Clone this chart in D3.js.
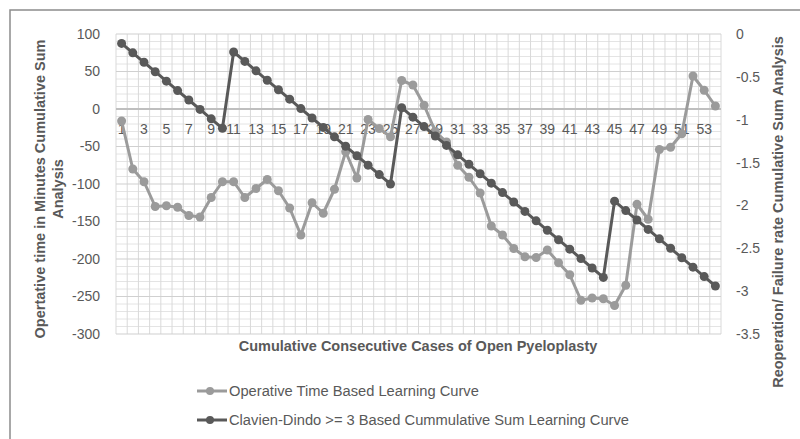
<!DOCTYPE html>
<html>
<head>
<meta charset="utf-8">
<script src="https://cdn.jsdelivr.net/npm/d3@7"></script>
<style>
  body { margin: 0; background: #fff; }
  svg { display: block; font-family: "Liberation Sans", Arial, sans-serif; }
</style>
</head>
<body>
<svg id="chart" width="800" height="439"></svg>
<script>
// cases 1..54
var cases = d3.range(1, 55);
var xTickLabels = cases.filter(function(d) { return d % 2 == 1; });

// operative time cusum (left axis, minutes)
var operativeTime = [
  -16, -80, -97, -130, -129, -131, -142, -144, -118, -97,
  -97, -118, -106, -94, -109, -132, -168, -125, -139, -107,
  -57, -92, -14, -26, -37, 38, 32, 5, -30, -44,
  -75, -91, -112, -156, -168, -186, -197, -198, -188, -205,
  -221, -255, -252, -253, -262, -235, -127, -147, -54, -51,
  -33, 44, 25, 4
];

// clavien-dindo >= 3 cusum (right axis)
var clavienDindo = [
  -0.11, -0.22, -0.33, -0.44, -0.55, -0.66, -0.77, -0.88, -0.99, -1.10,
  -0.21, -0.32, -0.43, -0.54, -0.65, -0.76, -0.87, -0.98, -1.09, -1.20,
  -1.31, -1.42, -1.53, -1.64, -1.75, -0.86, -0.97, -1.08, -1.19, -1.30,
  -1.41, -1.52, -1.63, -1.74, -1.85, -1.96, -2.07, -2.18, -2.29, -2.40,
  -2.51, -2.62, -2.73, -2.84, -1.95, -2.06, -2.17, -2.28, -2.39, -2.50,
  -2.61, -2.72, -2.83, -2.94
];

var leftTicks = [100, 50, 0, -50, -100, -150, -200, -250, -300];
var rightTicks = [0, -0.5, -1, -1.5, -2, -2.5, -3, -3.5];

var seriesNames = [
  "Operative Time Based Learning Curve",
  "Clavien-Dindo >= 3 Based Cummulative Sum Learning Curve"
];

var lightGray = "#9b9b9b", darkGray = "#595959", textCol = "#595959";

var svg = d3.select("#chart");

// outer chart border
svg.append("rect")
  .attr("x", 10).attr("y", 10).attr("width", 800).attr("height", 440)
  .attr("fill", "none").attr("stroke", "#8c8c8c").attr("stroke-width", 1.5);

var x = d3.scaleBand().domain(cases).range([116, 721]).padding(0);
var yL = d3.scaleLinear().domain([-300, 100]).range([334, 34]);
var yR = d3.scaleLinear().domain([-3.5, 0]).range([334, 34]);
var cx = function(d) { return x(d) + x.bandwidth() / 2; };

var grid = svg.append("g");

// minor horizontal grid every 10
grid.selectAll("line.minor")
  .data(d3.range(-300, 101, 10).filter(function(v) { return v % 50 != 0; }))
  .enter().append("line")
  .attr("x1", 116).attr("x2", 721)
  .attr("y1", function(d) { return yL(d); }).attr("y2", function(d) { return yL(d); })
  .attr("stroke", "#e4e4e4").attr("stroke-width", 1);

// vertical grid at category boundaries
grid.selectAll("line.vert")
  .data(cases.concat([55]))
  .enter().append("line")
  .attr("x1", function(d) { return d == 55 ? 721 : x(d); })
  .attr("x2", function(d) { return d == 55 ? 721 : x(d); })
  .attr("y1", 34).attr("y2", 334)
  .attr("stroke", "#d9d9d9").attr("stroke-width", 1);

// major horizontal grid
grid.selectAll("line.major")
  .data(leftTicks.filter(function(v) { return v != 0; }))
  .enter().append("line")
  .attr("x1", 116).attr("x2", 721)
  .attr("y1", function(d) { return yL(d); }).attr("y2", function(d) { return yL(d); })
  .attr("stroke", "#d0d0d0").attr("stroke-width", 1.2);

// zero / category axis line
svg.append("line")
  .attr("x1", 116).attr("x2", 721)
  .attr("y1", yL(0)).attr("y2", yL(0))
  .attr("stroke", "#bfbfbf").attr("stroke-width", 2);

// axes
var gLeft = svg.append("g").attr("transform", "translate(116,0)")
  .call(d3.axisLeft(yL).tickValues(leftTicks).tickSize(0).tickPadding(16)
    .tickFormat(function(d) { return String(d); }));
var gRight = svg.append("g").attr("transform", "translate(721,0)")
  .call(d3.axisRight(yR).tickValues(rightTicks).tickSize(0).tickPadding(15)
    .tickFormat(function(d) { return String(d); }));
var gBottom = svg.append("g").attr("transform", "translate(0," + yL(0) + ")")
  .call(d3.axisBottom(x).tickValues(xTickLabels).tickSize(0).tickPadding(15));

[gLeft, gRight, gBottom].forEach(function(g) {
  g.select(".domain").remove();
  g.selectAll("text").attr("fill", textCol).style("font-size", "14px")
    .style("font-family", '"Liberation Sans", Arial, sans-serif');
});

// series
function drawSeries(values, yScale, color) {
  var line = d3.line()
    .x(function(d, i) { return cx(cases[i]); })
    .y(function(d) { return yScale(d); });
  var g = svg.append("g");
  g.append("path").datum(values)
    .attr("d", line).attr("fill", "none")
    .attr("stroke", color).attr("stroke-width", 3)
    .attr("stroke-linejoin", "round");
  g.selectAll("circle").data(values).enter().append("circle")
    .attr("cx", function(d, i) { return cx(cases[i]); })
    .attr("cy", function(d) { return yScale(d); })
    .attr("r", 4.5).attr("fill", color);
}
drawSeries(operativeTime, yL, lightGray);
drawSeries(clavienDindo, yR, darkGray);

// axis titles
var lt = svg.append("text")
  .attr("transform", "translate(40,189) rotate(-90)")
  .attr("text-anchor", "middle").attr("fill", textCol)
  .style("font-size", "14.5px").style("font-weight", "bold");
lt.append("tspan").attr("x", 0).attr("dy", "0.35em").text("Opertative time in Minutes Cumulative Sum");
lt.append("tspan").attr("x", 0).attr("dy", 18).text("Analysis");

svg.append("text")
  .attr("transform", "translate(778,212) rotate(-90)")
  .attr("text-anchor", "middle").attr("dy", "0.35em").attr("fill", textCol)
  .style("font-size", "14.5px").style("font-weight", "bold")
  .text("Reoperation/ Failure rate Cumulative Sum Analysis");

svg.append("text")
  .attr("x", 418).attr("y", 351)
  .attr("text-anchor", "middle").attr("fill", textCol)
  .style("font-size", "14.5px").style("font-weight", "bold")
  .text("Cumulative Consecutive Cases of Open Pyeloplasty");

// legend
var legend = svg.append("g");
var legendY = [391, 420];
var legendCol = [lightGray, darkGray];
seriesNames.forEach(function(name, i) {
  var g = legend.append("g").attr("transform", "translate(0," + legendY[i] + ")");
  g.append("line").attr("x1", 197).attr("x2", 227).attr("y1", 0).attr("y2", 0)
    .attr("stroke", legendCol[i]).attr("stroke-width", 3);
  g.append("circle").attr("cx", 210).attr("cy", 0).attr("r", 4).attr("fill", legendCol[i]);
  g.append("text").attr("x", 229).attr("y", 0).attr("dy", "0.35em")
    .attr("fill", textCol).style("font-size", "14.7px").text(name);
});
</script>
</body>
</html>
